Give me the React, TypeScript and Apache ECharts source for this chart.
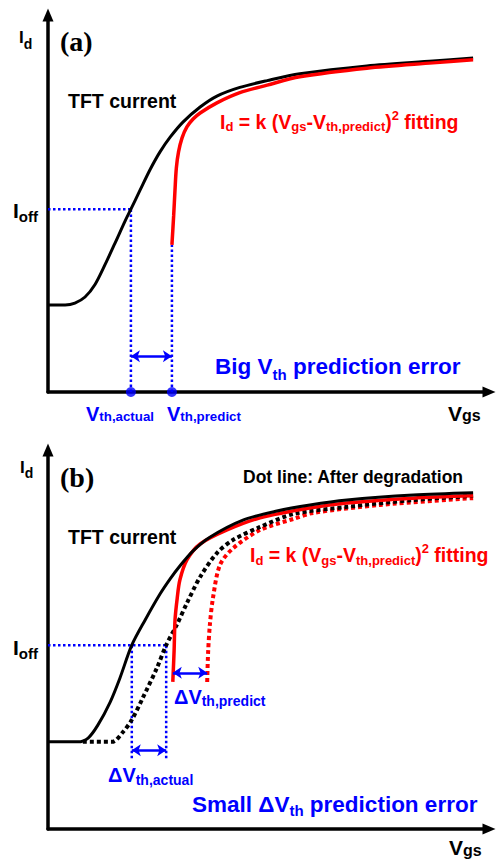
import React, { useEffect, useRef } from "react";
import * as echarts from "echarts";

const SANS = '"Liberation Sans", Arial, Helvetica, sans-serif';
const SERIF = '"Liberation Serif", "Times New Roman", serif';
const BLACK = "#000000";
const RED = "#ff0000";
const BLUE = "#0000ff";

// ---------- Panel (a): axis units Vgs 0..10, Id 0..10 ----------
const tftCurrentA: number[][] = [
  [0, 2.31], [0.39, 2.31], [0.61, 2.36], [0.84, 2.52], [1.07, 2.86], [1.29, 3.37],
  [1.52, 3.95], [1.75, 4.54], [1.88, 4.85], [2.09, 5.36], [2.31, 5.89], [2.54, 6.37],
  [2.77, 6.76], [3.06, 7.16], [3.45, 7.56], [3.83, 7.85], [4.35, 8.08], [4.97, 8.26],
  [5.71, 8.44], [7.23, 8.65], [8.73, 8.78], [9.64, 8.86],
];
const fittingA: number[][] = [
  [2.81, 3.9], [2.85, 4.69], [2.88, 5.36], [2.91, 5.94], [2.96, 6.37], [3.04, 6.74],
  [3.15, 7.03], [3.29, 7.24], [3.45, 7.4], [3.83, 7.67], [4.35, 7.94], [4.97, 8.14],
  [5.71, 8.36], [7.23, 8.59], [8.73, 8.73], [9.64, 8.81],
];
const ioffA = 4.85;
const vthActualA = 1.88;
const vthPredictA = 2.81;
const fitStartA = 3.9;
const errArrowA = 0.95;

// ---------- Panel (b) ----------
const tftCurrentB: number[][] = [
  [0, 2.3], [0.68, 2.3], [0.91, 2.4], [1.13, 2.74], [1.41, 3.35], [1.63, 3.98],
  [1.9, 4.85], [2.2, 5.51], [2.54, 6.2], [2.77, 6.6], [2.99, 6.94], [3.29, 7.34],
  [3.67, 7.7], [4.42, 8.15], [5.19, 8.39], [5.94, 8.55], [6.78, 8.68], [8.28, 8.81],
  [9.64, 8.87],
];
const fittingB: number[][] = [
  [2.83, 3.88], [2.86, 4.72], [2.88, 5.51], [2.93, 6.09], [2.99, 6.57], [3.15, 7.1],
  [3.45, 7.52], [4.06, 7.89], [4.81, 8.21], [5.94, 8.47], [6.78, 8.6], [8.28, 8.73],
  [9.64, 8.79],
];
const degradedB: number[][] = [
  [0.79, 2.3], [1.45, 2.3], [1.7, 2.56], [1.9, 2.88], [2.15, 3.46], [2.47, 4.25],
  [2.68, 4.85], [2.93, 5.41], [3.15, 5.96], [3.45, 6.65], [3.83, 7.28], [4.2, 7.63],
  [4.81, 7.97], [5.56, 8.31], [6.78, 8.5], [8.28, 8.68], [9.64, 8.79],
];
const degradedFitB: number[][] = [
  [3.61, 3.88], [3.63, 4.64], [3.67, 5.38], [3.74, 6.09], [3.9, 6.97], [4.2, 7.41],
  [4.81, 7.89], [5.56, 8.18], [6.01, 8.34], [7.53, 8.55], [9.64, 8.73],
];
const ioffB = 4.85;
const vthActualB = 1.9;
const vthDegradedB = 2.68;
const guideBottomB = 1.87;
const arrowActualB = 2.08;
const vthPredictB = 2.83;
const vthPredictDegB = 3.61;
const arrowPredictB = 4.12;

// ---------- Texts ----------
const FIT_TEXT = "{m|I}{s|d}{m| = k (V}{s|gs}{m|-V}{s|th,predict}{m|)}{p|2}{m| fitting}";

function axisLine() {
  return {
    show: true,
    onZero: false,
    symbol: ["none", "triangle"],
    symbolSize: [11, 13],
    lineStyle: { color: BLACK, width: 3.5 },
  };
}

function axis(gridIndex: number) {
  return {
    gridIndex,
    type: "value",
    min: 0,
    max: 10,
    axisLine: axisLine(),
    axisTick: { show: false },
    axisLabel: { show: false },
    splitLine: { show: false },
  };
}

function curve(data: number[][], color: string, width: number, dotted: boolean, g: number) {
  return {
    type: "line",
    xAxisIndex: g,
    yAxisIndex: g,
    data,
    smooth: 0.3,
    showSymbol: false,
    symbol: "none",
    silent: true,
    clip: false,
    z: 3,
    lineStyle: { color, width, type: dotted ? [4, 3] : "solid", cap: "butt" },
  };
}

function guide(data: number[][], g: number, arrows?: number[][][]) {
  const s: any = {
    type: "line",
    xAxisIndex: g,
    yAxisIndex: g,
    data,
    showSymbol: false,
    symbol: "none",
    silent: true,
    clip: false,
    z: 2,
    lineStyle: { color: BLUE, width: 2.5, type: [2.5, 2.5], cap: "butt" },
  };
  if (arrows) {
    s.markLine = {
      silent: true,
      symbol: ["arrow", "arrow"],
      symbolSize: 9,
      label: { show: false },
      lineStyle: { color: BLUE, width: 2.5, type: "solid" },
      data: arrows.map((a) => [{ coord: a[0] }, { coord: a[1] }]),
    };
  }
  return s;
}

function label(x: number, y: number, text: string, color: string, F: number, S = 13, d = 0, u = 0) {
  const base = { fill: color, fontFamily: SANS, fontWeight: "bold", lineHeight: 40 };
  return {
    type: "text",
    x,
    y,
    z: 100,
    silent: true,
    style: {
      text,
      fill: color,
      align: "left",
      verticalAlign: "middle",
      fontFamily: SANS,
      fontWeight: "bold",
      fontSize: F,
      rich: {
        m: { ...base, fontSize: F },
        s: { ...base, fontSize: S, padding: [2 * d, 0, 0, 0] },
        p: { ...base, fontSize: S, padding: [0, 0, 2 * u, 0] },
      },
    },
  };
}

function serifLabel(x: number, y: number, text: string) {
  return {
    type: "text",
    x,
    y,
    z: 100,
    silent: true,
    style: {
      text,
      fill: BLACK,
      align: "left",
      verticalAlign: "middle",
      fontFamily: SERIF,
      fontWeight: "bold",
      fontSize: 28,
    },
  };
}

export default function App() {
  const ref = useRef<HTMLDivElement>(null);
  useEffect(() => {
    const chart = echarts.init(ref.current!, null, { renderer: "svg" });
    const option: any = {
      animation: false,
      backgroundColor: "#ffffff",
      grid: [
        { left: 48, top: 15, width: 441, height: 377 },
        { left: 48, top: 450, width: 441, height: 379 },
      ],
      xAxis: [axis(0), axis(1)],
      yAxis: [axis(0), axis(1)],
      series: [
        // panel (a)
        guide([[0, ioffA], [vthActualA, ioffA]], 0),
        guide([[vthActualA, 0], [vthActualA, ioffA]], 0, [[[vthActualA, errArrowA], [vthPredictA, errArrowA]]]),
        guide([[vthPredictA, 0], [vthPredictA, fitStartA]], 0),
        curve(tftCurrentA, BLACK, 3, false, 0),
        curve(fittingA, RED, 3.5, false, 0),
        {
          type: "scatter",
          xAxisIndex: 0,
          yAxisIndex: 0,
          data: [[vthActualA, 0], [vthPredictA, 0]],
          symbolSize: 10,
          itemStyle: { color: BLUE },
          silent: true,
          clip: false,
          z: 5,
        },
        // panel (b)
        guide([[0, ioffB], [vthDegradedB, ioffB]], 1),
        guide([[vthActualB, guideBottomB], [vthActualB, ioffB]], 1, [
          [[vthActualB, arrowActualB], [vthDegradedB, arrowActualB]],
          [[vthPredictB, arrowPredictB], [vthPredictDegB, arrowPredictB]],
        ]),
        guide([[vthDegradedB, guideBottomB], [vthDegradedB, ioffB]], 1),
        curve(degradedFitB, RED, 4, true, 1),
        curve(degradedB, BLACK, 4, true, 1),
        curve(fittingB, RED, 3.5, false, 1),
        curve(tftCurrentB, BLACK, 3, false, 1),
      ],
      graphic: [
        // panel (a)
        label(19, 37.5, "{m|I}{s|d}", BLACK, 17, 14, 6),
        serifLabel(60, 41, "(a)"),
        label(68, 100.5, "{m|TFT current}", BLACK, 19.5),
        label(220, 121.5, FIT_TEXT, RED, 19.5, 13, 5, 6.5),
        label(13, 210.5, "{m|I}{s|off}", BLACK, 21, 15, 5.5),
        label(215, 366.5, "{m|Big V}{s|th}{m| prediction error}", BLUE, 22.5, 15, 7.5),
        label(86, 414, "{m|V}{s|th,actual}", BLUE, 20, 13.3, 2.5),
        label(167, 414, "{m|V}{s|th,predict}", BLUE, 20, 13.3, 2.5),
        label(448, 413, "{m|V}{s|gs}", BLACK, 21, 16, 2),
        // panel (b)
        label(20, 467, "{m|I}{s|d}", BLACK, 17, 14, 6),
        serifLabel(60, 477, "(b)"),
        label(243, 477, "{m|Dot line: After degradation}", BLACK, 17.5),
        label(68, 536.5, "{m|TFT current}", BLACK, 19.5),
        label(250, 555, FIT_TEXT, RED, 19.5, 13, 5, 6.5),
        label(13, 647.5, "{m|I}{s|off}", BLACK, 21, 15, 5.5),
        label(174, 696.5, "{m|ΔV}{s|th,predict}", BLUE, 20, 14, 4.5),
        label(108, 775, "{m|ΔV}{s|th,actual}", BLUE, 20, 14, 4.5),
        label(192, 804.5, "{m|Small ΔV}{s|th}{m| prediction error}", BLUE, 22.5, 15, 5.6),
        label(449, 847.5, "{m|V}{s|gs}", BLACK, 21, 16, 3),
      ],
    };
    chart.setOption(option);
    return () => chart.dispose();
  }, []);
  return (
    <div
      ref={ref}
      style={{ position: "fixed", left: 0, top: 0, width: 497, height: 866, background: "#fff" }}
    />
  );
}
